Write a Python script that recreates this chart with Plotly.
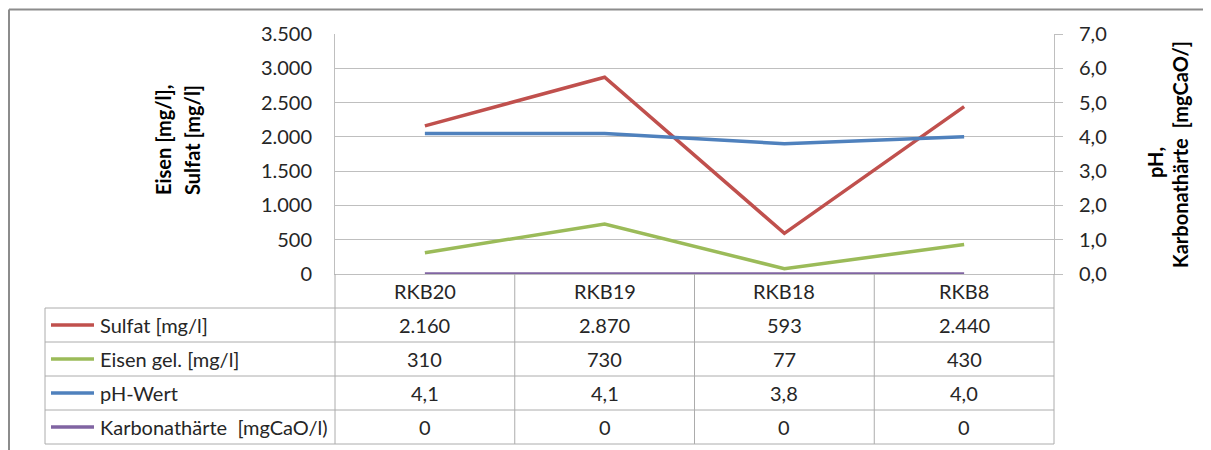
import plotly.graph_objects as go

# ---------------- data ----------------
categories = ["RKB20", "RKB19", "RKB18", "RKB8"]
sulfat = [2160, 2870, 593, 2440]
eisen = [310, 730, 77, 430]
ph_wert = [4.1, 4.1, 3.8, 4.0]
karbonat = [0, 0, 0, 0]

series_names = ["Sulfat [mg/l]", "Eisen gel. [mg/l]", "pH-Wert", "Karbonathärte  [mgCaO/l)"]
series_values = [sulfat, eisen, ph_wert, karbonat]
series_axis = ["y", "y", "y2", "y2"]
series_fmt = ["int", "int", "dec", "int"]
colors = ["#C0504D", "#9BBB59", "#4F81BD", "#8064A2"]

left_ticks = [0, 500, 1000, 1500, 2000, 2500, 3000, 3500]
right_ticks = [0, 1, 2, 3, 4, 5, 6, 7]

# ---------------- geometry (window pixels) ----------------
OX, OY = 8, 8          # default page body margin
W, H = 1211 - OX, 450 - OY
L, R, T, B = 335, 1054, 34, 274
pw, ph = R - L, B - T
FONT = "Lato, Carlito, Calibri, sans-serif"
FS = 20
TXT = "#262626"
GRID = "#BFBFBF"
TAB = "#ACACAC"


def px_x(x):
    return (x - L) / pw


def px_y(y):
    return (B - y) / ph


def fmt(v, kind):
    if kind == "int":
        return f"{int(round(v)):,}".replace(",", ".")
    return f"{v:.1f}".replace(".", ",")


fig = go.Figure()
for name, vals, ax, col in zip(series_names, series_values, series_axis, colors):
    fig.add_trace(go.Scatter(
        x=categories, y=vals, name=name, yaxis=ax, mode="lines",
        line=dict(color=col, width=3.5), cliponaxis=False, showlegend=False,
    ))

shapes = []
annotations = []

row_h = 34
row_tops = [274 + row_h * i for i in range(5)]  # header row + 4 series rows
table_bottom = 274 + row_h * 5

# outer frame (partially visible)
shapes.append(dict(type="line", xref="paper", yref="paper",
                   x0=px_x(9), x1=px_x(1215), y0=px_y(9.5), y1=px_y(9.5),
                   line=dict(color="#8C8C8C", width=2)))
shapes.append(dict(type="line", xref="paper", yref="paper",
                   x0=px_x(9), x1=px_x(9), y0=px_y(9.5), y1=px_y(455),
                   line=dict(color="#8C8C8C", width=2)))

# table horizontal lines
for yt in row_tops[1:] + [table_bottom]:
    shapes.append(dict(type="line", xref="paper", yref="paper",
                       x0=px_x(45), x1=1, y0=px_y(yt), y1=px_y(yt),
                       line=dict(color=TAB, width=1)))
# table vertical lines: category boundaries
for k in range(len(categories) - 1):
    shapes.append(dict(type="line", xref="x", yref="paper",
                       x0=k + 0.5, x1=k + 0.5, y0=0, y1=px_y(table_bottom),
                       line=dict(color=TAB, width=1)))
# table outer verticals
for xp in [0, 1]:
    shapes.append(dict(type="line", xref="paper", yref="paper",
                       x0=xp, x1=xp, y0=0, y1=px_y(table_bottom),
                       line=dict(color=TAB, width=1)))
shapes.append(dict(type="line", xref="paper", yref="paper",
                   x0=px_x(45), x1=px_x(45), y0=px_y(row_tops[1]), y1=px_y(table_bottom),
                   line=dict(color=TAB, width=1)))

# header row: category names
for c in categories:
    annotations.append(dict(x=c, xref="x", y=px_y(row_tops[0] + row_h / 2), yref="paper",
                            text=c, showarrow=False, xanchor="center", yanchor="middle",
                            font=dict(family=FONT, size=FS, color=TXT)))

# series rows
for i, (name, vals, kind, col) in enumerate(zip(series_names, series_values, series_fmt, colors)):
    yc = row_tops[i + 1] + row_h / 2
    shapes.append(dict(type="line", xref="paper", yref="paper",
                       x0=px_x(51), x1=px_x(94), y0=px_y(yc), y1=px_y(yc),
                       line=dict(color=col, width=3.5)))
    annotations.append(dict(x=px_x(98), xref="paper", y=px_y(yc), yref="paper",
                            text=name, showarrow=False, xanchor="left", yanchor="middle",
                            font=dict(family=FONT, size=FS, color=TXT)))
    for c, v in zip(categories, vals):
        annotations.append(dict(x=c, xref="x", y=px_y(yc), yref="paper",
                                text=fmt(v, kind), showarrow=False,
                                xanchor="center", yanchor="middle",
                                font=dict(family=FONT, size=FS, color=TXT)))

# axis titles
title_font = dict(family=FONT, size=FS, color="#000000", weight="bold")
for txt, xc in [("Eisen [mg/l],", 163), ("Sulfat [mg/l]", 192)]:
    annotations.append(dict(x=px_x(xc), xref="paper", y=px_y(140), yref="paper",
                            text=txt, textangle=-90, showarrow=False,
                            xanchor="center", yanchor="middle", font=title_font))
for txt, xc, yc in [("pH,", 1155, 163), ("Karbonathärte  [mgCaO/]", 1180, 155)]:
    annotations.append(dict(x=px_x(xc), xref="paper", y=px_y(yc), yref="paper",
                            text=txt, textangle=-90, showarrow=False,
                            xanchor="center", yanchor="middle", font=title_font))

fig.update_layout(
    width=W, height=H,
    margin=dict(l=L - OX, r=1211 - R, t=T - OY, b=450 - B, pad=0),
    paper_bgcolor="white", plot_bgcolor="white",
    separators=",.",
    shapes=shapes, annotations=annotations,
    xaxis=dict(type="category", range=[-0.5, len(categories) - 0.5],
               showticklabels=False, showgrid=False, zeroline=False,
               showline=True, linecolor=GRID, linewidth=1, ticks="",
               layer="below traces"),
    yaxis=dict(range=[0, 3500], tickvals=left_ticks, tickformat=",d",
               showgrid=True, gridcolor=GRID, gridwidth=1, zeroline=False,
               showline=True, linecolor=GRID, linewidth=1, ticks="",
               ticklabelstandoff=18,
               tickfont=dict(family=FONT, size=FS, color=TXT), layer="below traces"),
    yaxis2=dict(range=[0, 7], tickvals=right_ticks, tickformat=".1f",
                overlaying="y", side="right", showgrid=False, zeroline=False,
                showline=True, linecolor=GRID, linewidth=1,
                ticks="outside", ticklen=8, tickcolor=GRID, tickwidth=1,
                ticklabelstandoff=12,
                tickfont=dict(family=FONT, size=FS, color=TXT), layer="below traces"),
)

fig.write_html("out.html")
